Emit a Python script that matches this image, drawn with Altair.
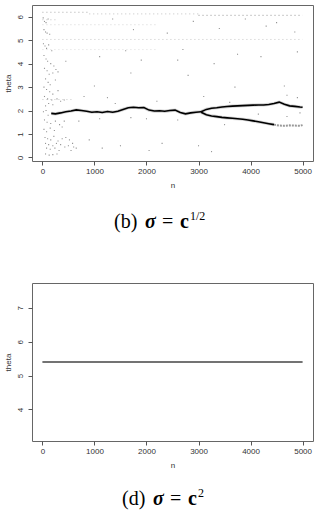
import altair as alt
import pandas as pd

# ---------------- data ----------------
x_ticks = [0, 1000, 2000, 3000, 4000, 5000]
y1_ticks = [0, 1, 2, 3, 4, 5, 6]
y2_ticks = [4, 5, 6, 7]

# main dense trace (panel b)
main_n = [170, 250, 350, 450, 550, 650, 750, 850, 950, 1050, 1150, 1250, 1350, 1450, 1550,
          1650, 1750, 1850, 1950, 2050, 2150, 2250, 2350, 2450, 2550, 2650, 2750, 2850, 2950, 3050]
main_t = [1.88, 1.86, 1.90, 1.95, 1.98, 2.03, 2.00, 1.97, 1.93, 1.95, 1.92, 1.96, 1.93, 1.97, 2.05,
          2.12, 2.14, 2.12, 2.13, 2.02, 1.98, 1.99, 1.97, 2.00, 2.02, 1.92, 1.86, 1.90, 1.93, 1.95]
upper_n = [3050, 3150, 3250, 3350, 3450, 3550, 3650, 3750, 3850, 3950, 4050, 4150, 4250, 4350,
           4450, 4550, 4650, 4750, 4850, 4950, 5000]
upper_t = [1.95, 2.05, 2.10, 2.12, 2.15, 2.17, 2.19, 2.20, 2.21, 2.22, 2.23, 2.24, 2.24, 2.26,
           2.30, 2.36, 2.27, 2.20, 2.18, 2.15, 2.14]
lower_n = [3050, 3150, 3250, 3350, 3450, 3550, 3650, 3750, 3850, 3950, 4050, 4150, 4250, 4350, 4450]
lower_t = [1.93, 1.82, 1.77, 1.74, 1.71, 1.69, 1.67, 1.65, 1.63, 1.60, 1.56, 1.52, 1.48, 1.44, 1.40]
tail_n = [4450, 4550, 4650, 4750, 4850, 4950, 5000]
tail_t = [1.40, 1.36, 1.35, 1.37, 1.36, 1.35, 1.38]

# dotted bands of points (start n, end n, theta, shade)
band_start = [0, 900, 3000, 0, 0, 0, 0, 0]
band_end = [900, 3000, 5000, 250, 2200, 5000, 2200, 600]
band_theta = [6.19, 6.12, 6.06, 5.87, 5.66, 5.03, 4.60, 2.47]
band_shade = ["#888888", "#aaaaaa", "#666666", "#aaaaaa", "#c4c4c4", "#b4b4b4", "#d0d0d0", "#b0b0b0"]

# scattered points
pts_n = [15, 40, 70, 110, 30, 60, 90, 140, 20, 50, 80, 120, 180, 30, 70, 100, 160, 220, 40, 90,
         130, 200, 260, 60, 110, 150, 250, 30, 80, 140, 200, 300, 40, 100, 180, 280, 350, 420, 60, 120,
         200, 20, 70, 110, 40, 90, 160, 250, 330, 420, 30, 80, 150, 230, 380, 50, 100, 160, 220, 300,
         380, 450, 520, 60, 120, 200, 270, 350, 430, 500, 580, 80, 150, 240, 320, 60, 130, 200, 280, 550,
         600, 650,
         900, 1150, 1500, 2050, 2300, 3000, 3250, 1250, 1700, 2600, 3500, 2200, 700, 800, 1000, 1700,
         2800, 3700, 4650, 300, 450, 1100, 1900, 2600, 3300, 3750, 4200, 4900, 1600, 2700, 1750, 2400,
         3400, 4300, 2900, 4500, 3900, 1350, 4850, 3100, 4700, 4900, 3600, 2000, 1100, 1400, 4150, 4700, 4950]
pts_t = [5.95, 5.80, 5.75, 5.90, 5.45, 5.35, 5.30, 5.25, 4.85, 4.75, 4.65, 4.80, 4.55, 4.35, 4.20, 4.10,
         4.00, 3.90, 3.80, 3.70, 3.55, 3.60, 3.75, 3.35, 3.20, 3.10, 3.30, 3.00, 2.90, 2.80, 2.70, 2.85,
         2.60, 2.50, 2.45, 2.50, 2.40, 2.45, 2.20, 2.30, 2.25, 1.95, 2.00, 1.80, 1.60, 1.50, 1.45, 1.55,
         1.40, 1.55, 1.20, 1.10, 1.25, 1.15, 1.30, 0.85, 0.80, 0.75, 0.90, 0.70, 0.80, 0.85, 0.75, 0.60,
         0.55, 0.50, 0.60, 0.55, 0.45, 0.50, 0.60, 0.40, 0.35, 0.40, 0.30, 0.15, 0.10, 0.12, 0.15, 0.30,
         0.45, 0.40,
         0.75, 0.40, 0.50, 0.30, 0.60, 0.50, 0.25, 2.55, 1.70, 1.60, 1.40, 2.40, 1.55, 2.60, 3.05, 3.60,
         3.50, 3.00, 3.05, 3.65, 4.10, 4.30, 4.15, 4.15, 4.00, 4.40, 4.30, 4.50, 4.55, 4.60, 5.45, 5.30,
         5.50, 5.60, 5.80, 5.75, 5.90, 5.90, 5.35, 2.60, 2.65, 2.55, 2.35, 1.65, 1.65, 2.30, 1.85, 1.75, 1.90]

# constant trace (panel d)
d_n = [0, 1000, 2000, 3000, 4000, 5000]
d_t = [5.4, 5.4, 5.4, 5.4, 5.4, 5.4]

# ---------------- tables ----------------
traces = pd.concat([
    pd.DataFrame({"n": main_n, "theta": main_t, "branch": "main"}),
    pd.DataFrame({"n": upper_n, "theta": upper_t, "branch": "upper"}),
    pd.DataFrame({"n": lower_n, "theta": lower_t, "branch": "lower"}),
], ignore_index=True)
tail = pd.DataFrame({"n": tail_n, "theta": tail_t})
bands = pd.concat([
    pd.DataFrame({"n": band_start, "theta": band_theta, "shade": band_shade, "g": range(len(band_theta))}),
    pd.DataFrame({"n": band_end, "theta": band_theta, "shade": band_shade, "g": range(len(band_theta))}),
], ignore_index=True)
pts = pd.DataFrame({"n": pts_n, "theta": pts_t})
dline = pd.DataFrame({"n": d_n, "theta": d_t})

W, H1, H2 = 281, 156, 158
xs = alt.Scale(domain=[-200, 5200], nice=False, zero=False)
ys1 = alt.Scale(domain=[-0.15, 6.5], nice=False, zero=False)
ys2 = alt.Scale(domain=[3.07, 7.73], nice=False, zero=False)

def xaxis():
    return alt.Axis(values=x_ticks, title="n", format="d", labelFlush=False,
                    labelPadding=2, titlePadding=6)

def yaxis(vals):
    return alt.Axis(values=vals, title="theta", format="d", labelAngle=270,
                    labelAlign="center", labelBaseline="bottom", labelPadding=4,
                    titlePadding=4, labelFlush=False)

X = alt.X("n:Q", scale=xs, axis=xaxis())
Y1 = alt.Y("theta:Q", scale=ys1, axis=yaxis(y1_ticks))
Y2 = alt.Y("theta:Q", scale=ys2, axis=yaxis(y2_ticks))

one = pd.DataFrame({"a": [0]})
SERIF = "Liberation Serif"

def cap(txt, x, y, size=20, weight="normal", style="normal"):
    return alt.Chart(one).mark_text(text=txt, font=SERIF, fontSize=size, fontWeight=weight,
                                    fontStyle=style, align="left", baseline="alphabetic",
                                    color="black").encode(x=alt.value(x), y=alt.value(y))

band_layer = alt.Chart(bands).mark_line(strokeWidth=1, strokeDash=[1, 3], opacity=0.7).encode(
    x=X, y=Y1, detail="g:N", color=alt.Color("shade:N", scale=None))
pts_layer = alt.Chart(pts).mark_square(size=1.2, color="#777777", opacity=0.8).encode(x=X, y=Y1)
halo = alt.Chart(traces).mark_line(strokeWidth=3.2, color="#aaaaaa", opacity=0.5).encode(
    x=X, y=Y1, detail="branch:N", order="n:Q")
core = alt.Chart(traces).mark_line(strokeWidth=1.6, color="black").encode(
    x=X, y=Y1, detail="branch:N", order="n:Q")
tail_layer = alt.Chart(tail).mark_line(strokeWidth=2, color="#999999", strokeDash=[2, 1]).encode(x=X, y=Y1)

top = alt.layer(
    band_layer, pts_layer, halo, tail_layer, core,
    cap("(b)", 82, 223), cap("σ", 113, 223, weight="bold", style="italic"),
    cap("=", 130, 223), cap("c", 148, 223, weight="bold"), cap("1/2", 158, 215, size=12),
).properties(width=W, height=H1)

bottom = alt.layer(
    alt.Chart(dline).mark_line(strokeWidth=1.6, color="#444444").encode(
        x=alt.X("n:Q", scale=xs, axis=xaxis()), y=Y2),
    cap("(d)", 90, 222), cap("σ", 121, 222, weight="bold", style="italic"),
    cap("=", 138, 222), cap("c", 156, 222, weight="bold"), cap("2", 166, 214, size=12),
).properties(width=W, height=H2)

chart = alt.vconcat(top, bottom, spacing=49).properties(
    padding={"left": 3, "top": 4, "right": 2, "bottom": 0}
).configure_view(stroke="#666666", strokeWidth=1).configure_axis(
    domain=False, grid=False, tickColor="#555555", tickSize=4,
    labelFont="Liberation Sans", labelFontSize=8, labelColor="#333333",
    titleFont="Liberation Sans", titleFontSize=8, titleFontWeight="normal", titleColor="#333333"
).configure_concat(spacing=49)

chart.save("out.html", embed_options={"renderer": "svg", "actions": False})
